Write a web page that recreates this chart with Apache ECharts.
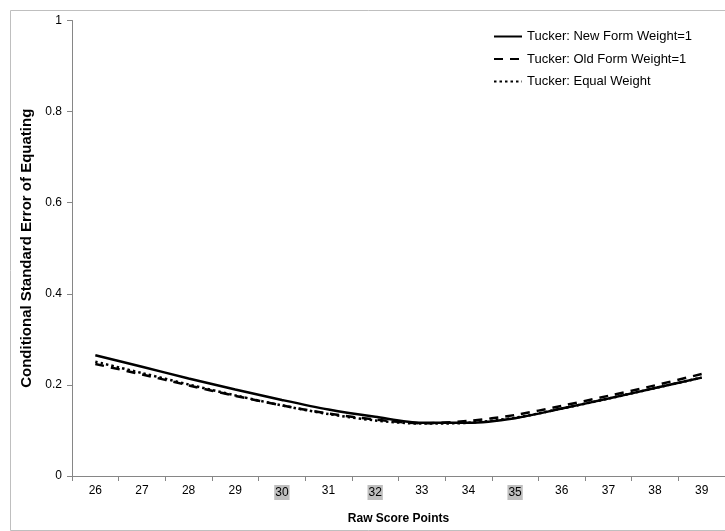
<!DOCTYPE html>
<html>
<head>
<meta charset="utf-8">
<script src="https://cdn.jsdelivr.net/npm/echarts@6/dist/echarts.min.js"></script>
<style>html,body{margin:0;padding:0;background:#fff}#c{width:725px;height:531px}</style>
</head>
<body>
<div id="c"></div>
<script>
var categories = ['26','27','28','29','30','31','32','33','34','35','36','37','38','39'];
var highlighted = ['30','32','35'];
var newForm = [0.265, 0.240, 0.214, 0.190, 0.167, 0.146, 0.130, 0.117, 0.117, 0.127, 0.148, 0.170, 0.193, 0.216];
var oldForm = [0.246, 0.223, 0.199, 0.176, 0.155, 0.137, 0.124, 0.116, 0.121, 0.134, 0.154, 0.176, 0.199, 0.224];
var equalW  = [0.251, 0.226, 0.201, 0.177, 0.155, 0.136, 0.122, 0.115, 0.117, 0.128, 0.148, 0.170, 0.193, 0.216];
var seriesNames = ['Tucker: New Form Weight=1', 'Tucker: Old Form Weight=1', 'Tucker: Equal Weight'];

var FONT = "'Liberation Sans', Arial, sans-serif";
var chart = echarts.init(document.getElementById('c'), null, {renderer: 'canvas'});
chart.setOption({
  animation: false,
  textStyle: {fontFamily: FONT},
  graphic: [{
    type: 'rect', left: 8, top: 8, z: -1,
    shape: {width: 740, height: 520},
    style: {fill: 'none', stroke: '#bfbfbf', lineWidth: 1}
  }],
  grid: {left: 72, right: 0, top: 20.5, bottom: 55, containLabel: false},
  legend: {
    orient: 'vertical', left: 488, top: 25,
    itemWidth: 28, itemHeight: 14, itemGap: 9.5,
    itemStyle: {opacity: 0},
    textStyle: {fontFamily: FONT, fontSize: 13, color: '#000'},
    data: seriesNames
  },
  xAxis: {
    type: 'category', data: categories, boundaryGap: true,
    name: 'Raw Score Points', nameLocation: 'middle', nameGap: 37,
    nameTextStyle: {fontFamily: FONT, fontSize: 12, fontWeight: 'bold', color: '#000'},
    axisLine: {lineStyle: {color: '#868686', width: 1}},
    axisTick: {show: true, alignWithLabel: false, length: 5, lineStyle: {color: '#868686'}},
    axisLabel: {
      fontFamily: FONT, fontSize: 12, color: '#000', margin: 9, interval: 0,
      formatter: function (v) { return highlighted.indexOf(v) >= 0 ? '{hl|' + v + '}' : v; },
      rich: {hl: {backgroundColor: '#bfbfbf', padding: [2, 1, 1, 1], fontFamily: FONT, fontSize: 12, color: '#000'}}
    },
    splitLine: {show: false}
  },
  yAxis: {
    type: 'value', min: 0, max: 1, interval: 0.2,
    name: 'Conditional Standard Error of Equating', nameLocation: 'middle', nameGap: 32,
    nameTextStyle: {fontFamily: FONT, fontSize: 15, fontWeight: 'bold', color: '#000'},
    axisLine: {show: true, lineStyle: {color: '#868686', width: 1}},
    axisTick: {show: true, length: 5, lineStyle: {color: '#868686'}},
    axisLabel: {fontFamily: FONT, fontSize: 12, color: '#000', margin: 10,
      formatter: function (v) { return String(Math.round(v * 10) / 10); }},
    splitLine: {show: false}
  },
  series: [
    {name: seriesNames[0], type: 'line', data: newForm, symbol: 'none', smooth: 0.3,
     lineStyle: {color: '#000', width: 2.5, type: 'solid'}, itemStyle: {color: '#000'}},
    {name: seriesNames[1], type: 'line', data: oldForm, symbol: 'none', smooth: 0.3,
     lineStyle: {color: '#000', width: 2.5, type: [9, 7]}, itemStyle: {color: '#000'}},
    {name: seriesNames[2], type: 'line', data: equalW, symbol: 'none', smooth: 0.3,
     lineStyle: {color: '#000', width: 2.5, type: [2.5, 3]}, itemStyle: {color: '#000'}}
  ]
});
</script>
</body>
</html>
